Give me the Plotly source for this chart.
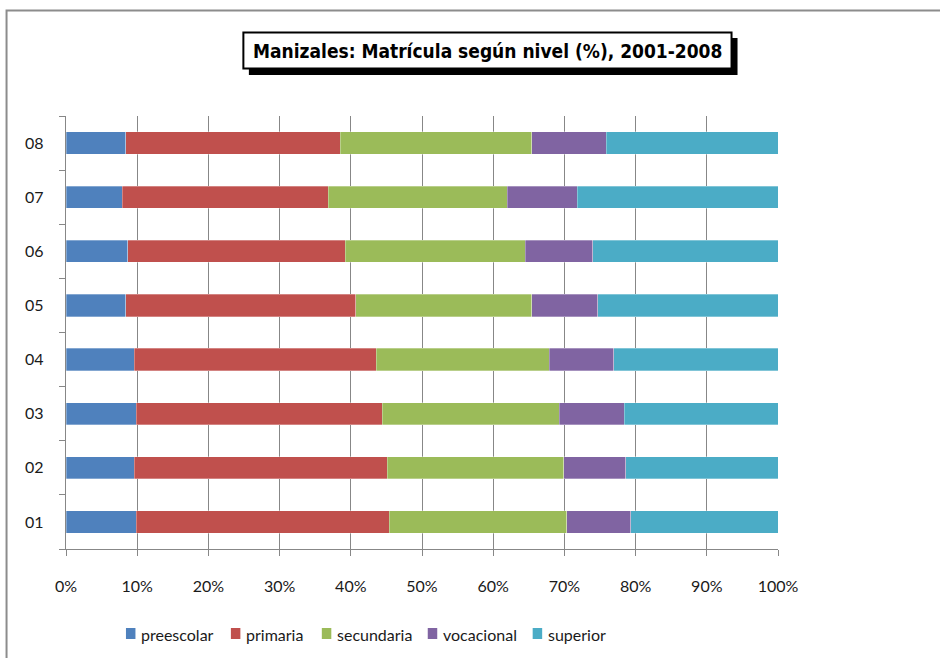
import plotly.graph_objects as go

# años 2001-2008
years = ["01", "02", "03", "04", "05", "06", "07", "08"]

# participación (%) por nivel
preescolar = [9.9, 9.6, 9.9, 9.6, 8.4, 8.7, 7.9, 8.4]
primaria = [35.5, 35.5, 34.5, 34.0, 32.3, 30.5, 28.9, 30.1]
secundaria = [24.9, 24.8, 24.9, 24.3, 24.7, 25.3, 25.2, 26.9]
vocacional = [9.0, 8.7, 9.1, 9.0, 9.3, 9.5, 9.8, 10.5]
superior = [20.7, 21.4, 21.6, 23.1, 25.3, 26.0, 28.2, 24.1]

series = [
    ("preescolar", preescolar, "#4F81BD"),
    ("primaria", primaria, "#C0504D"),
    ("secundaria", secundaria, "#9BBB59"),
    ("vocacional", vocacional, "#8064A2"),
    ("superior", superior, "#4BACC6"),
]

FONT = "Lato, 'Noto Sans', sans-serif"

fig = go.Figure()
for name, vals, color in series:
    fig.add_trace(go.Bar(
        y=years, x=vals, name=name, orientation="h",
        marker=dict(color=color, line=dict(color="rgba(255,255,255,0.6)", width=0.5)),
    ))

# plot area in pixels: x 66..778.5, y 116..549
L, R, T, B = 66, 161.5, 116, 109
W = 940 - L - R
H = 658 - T - B


def px(x):
    return (x - L) / W


def py(y):
    return (658 - B - y) / H


shapes = [
    # chart border
    dict(type="rect", xref="paper", yref="paper",
         x0=px(6.5), x1=px(960), y0=py(680), y1=py(10.5),
         line=dict(color="#8c8c8c", width=2), fillcolor="rgba(0,0,0,0)"),
    # title shadow
    dict(type="rect", xref="paper", yref="paper",
         x0=px(249), x1=px(738), y0=py(75), y1=py(38),
         line=dict(width=0), fillcolor="black"),
    # title box
    dict(type="rect", xref="paper", yref="paper",
         x0=px(243.5), x1=px(732), y0=py(68.5), y1=py(32.5),
         line=dict(color="black", width=2), fillcolor="white"),
]
annotations = [dict(
    text="<b>Manizales: Matrícula según nivel (%), 2001-2008</b>",
    xref="paper", yref="paper", x=px(487.5), y=py(51),
    xanchor="center", yanchor="middle", showarrow=False,
    font=dict(family="'DejaVu Sans Condensed', 'Liberation Sans', sans-serif",
              size=19, color="black"),
)]

# legend drawn Excel-style: small square right next to the label
legend_x = [126, 231, 322, 428, 533]
for (name, _, color), lx in zip(series, legend_x):
    shapes.append(dict(type="rect", xref="paper", yref="paper",
                       x0=px(lx), x1=px(lx + 9.5), y0=py(639), y1=py(628),
                       line=dict(width=0), fillcolor=color))
    annotations.append(dict(text=name, xref="paper", yref="paper",
                            x=px(lx + 13), y=py(634.5), xanchor="left", yanchor="middle",
                            showarrow=False, font=dict(family=FONT, size=16, color="#1a1a1a")))

fig.update_layout(
    width=940, height=658,
    barmode="stack", bargap=0.59,
    margin=dict(l=L, r=R, t=T, b=B),
    paper_bgcolor="white", plot_bgcolor="white",
    font=dict(family=FONT, size=16, color="#1a1a1a"),
    shapes=shapes,
    annotations=annotations,
    showlegend=False,
)

fig.update_xaxes(
    range=[0, 100], dtick=10, ticksuffix="%",
    showgrid=True, gridcolor="#878787", gridwidth=1.3,
    showline=True, linecolor="#878787", linewidth=1.3,
    ticks="outside", ticklen=6, tickcolor="#878787", tickwidth=1.3,
    ticklabelstandoff=17, zeroline=False,
)
fig.update_yaxes(
    showgrid=False, showline=True, linecolor="#878787", linewidth=1.3,
    ticks="outside", ticklen=6, tickcolor="#878787", tickwidth=1.3,
    tickson="boundaries", ticklabelstandoff=18,
)

fig.write_html("out.html", config={"displayModeBar": False},
               post_script="document.body.style.margin='0';")
